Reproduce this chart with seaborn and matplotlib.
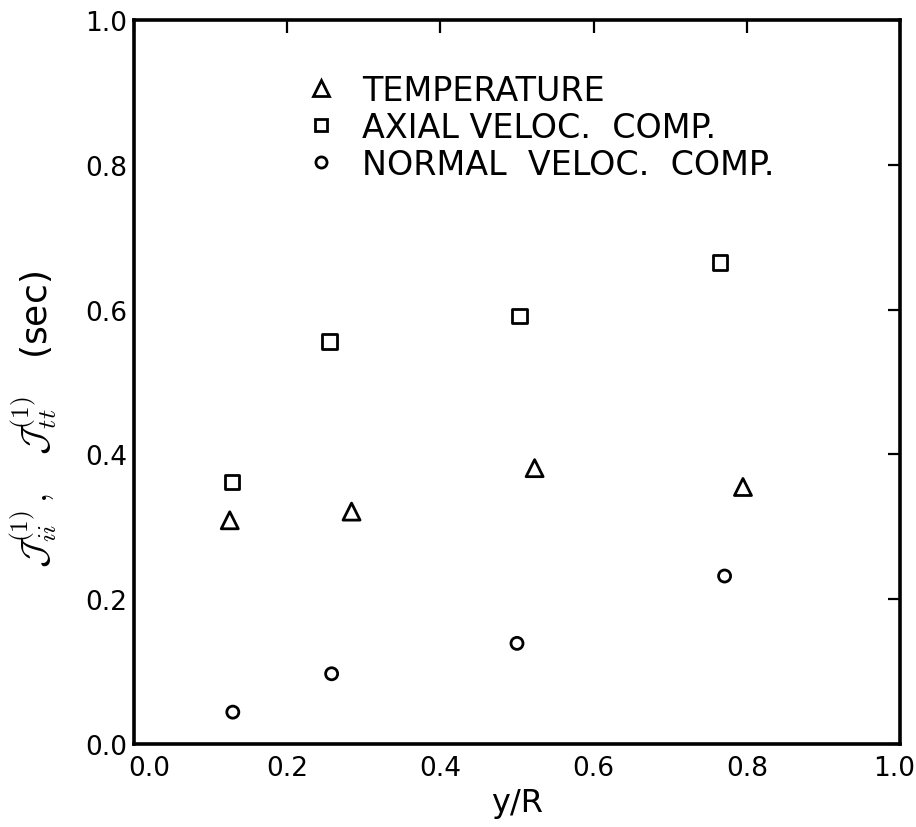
import matplotlib
matplotlib.use("Agg")
import matplotlib.pyplot as plt
from matplotlib.lines import Line2D
import matplotlib.transforms as mtrans
import seaborn as sns
import pandas as pd

# data
temp_x = [0.125, 0.284, 0.523, 0.795]
temp_y = [0.309, 0.321, 0.381, 0.355]
axial_x = [0.128, 0.255, 0.503, 0.765]
axial_y = [0.362, 0.556, 0.591, 0.665]
normal_x = [0.129, 0.258, 0.500, 0.771]
normal_y = [0.044, 0.097, 0.139, 0.232]
series_names = ["TEMPERATURE", "AXIAL VELOC.  COMP.", "NORMAL  VELOC.  COMP."]
tick_vals = [0.0, 0.2, 0.4, 0.6, 0.8, 1.0]
tick_labels = ["0.0", "0.2", "0.4", "0.6", "0.8", "1.0"]

df = pd.concat([
    pd.DataFrame({"x": temp_x, "y": temp_y, "series": series_names[0]}),
    pd.DataFrame({"x": axial_x, "y": axial_y, "series": series_names[1]}),
    pd.DataFrame({"x": normal_x, "y": normal_y, "series": series_names[2]}),
])

sns.set_theme(style="white")
plt.rcParams['font.family'] = ['DejaVu Sans']
plt.rcParams['mathtext.fontset'] = 'cm'
plt.rcParams['text.color'] = 'black'
plt.rcParams['axes.labelcolor'] = 'black'

fig = plt.figure(figsize=(9.16, 8.28), dpi=100)
ax = fig.add_axes([134/916, 1 - 745/828, 766/916, 724/828])

markers = {series_names[0]: "^", series_names[1]: "s", series_names[2]: "o"}
sizes = {series_names[0]: 150, series_names[1]: 110, series_names[2]: 75}
for name in series_names:
    sub = df[df["series"] == name]
    sns.scatterplot(data=sub, x="x", y="y", marker=markers[name], s=sizes[name],
                    color="black", ax=ax, legend=False)
for coll in ax.collections:
    coll.set_facecolor("none")
    coll.set_edgecolor("black")
    coll.set_linewidth(2.0)

ax.set_xlim(0, 1)
ax.set_ylim(0, 1)
ax.set_xticks(tick_vals)
ax.set_xticklabels(tick_labels)
ax.set_yticks(tick_vals)
ax.set_yticklabels(tick_labels)
ax.tick_params(direction="in", top=True, right=True, length=9, width=1.6,
               labelsize=19, colors="black")
ax.tick_params(axis="y", pad=5)
ax.tick_params(axis="x", pad=8)
for sp in ax.spines.values():
    sp.set_linewidth(2.6)
    sp.set_color("black")

# shift the corner x tick labels inward like the reference
xlabs = ax.get_xticklabels()
xlabs[0].set_transform(xlabs[0].get_transform() + mtrans.ScaledTranslation(15/100, 0, fig.dpi_scale_trans))
xlabs[-1].set_transform(xlabs[-1].get_transform() + mtrans.ScaledTranslation(-6/100, 0, fig.dpi_scale_trans))

ax.set_xlabel("y/R", fontsize=23, labelpad=4)
ax.set_ylabel(r"$\mathcal{J}_{ii}^{(1)}\,,\quad \mathcal{J}_{tt}^{(1)}$   (sec)", fontsize=26)
ax.yaxis.set_label_coords(-0.098, 0.45)

handles = [
    Line2D([], [], marker="^", linestyle="none", markersize=11, markerfacecolor="none",
           markeredgecolor="black", markeredgewidth=2.0),
    Line2D([], [], marker="s", linestyle="none", markersize=9, markerfacecolor="none",
           markeredgecolor="black", markeredgewidth=2.0),
    Line2D([], [], marker="o", linestyle="none", markersize=8, markerfacecolor="none",
           markeredgecolor="black", markeredgewidth=2.0),
]
ax.legend(handles, series_names, loc="upper left", bbox_to_anchor=(0.224, 0.926),
          frameon=False, fontsize=24, handlelength=0.95, handletextpad=0.75,
          labelspacing=0.12, borderaxespad=0, borderpad=0)

fig.savefig("out.png", dpi=100)
